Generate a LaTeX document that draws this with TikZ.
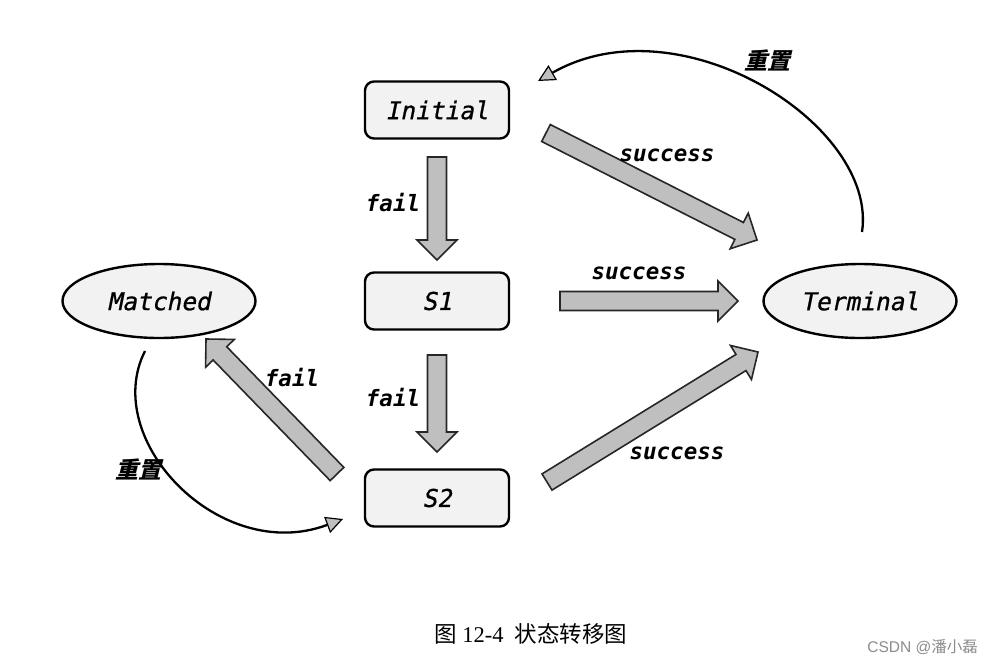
\documentclass[tikz,border=0pt]{standalone}
\usepackage{fontspec}
\setmainfont{Liberation Serif}
\setmonofont{DejaVu Sans Mono}
\newfontfamily\nodefont{DejaVu Sans Mono}[FakeSlant=0.2, FakeBold=0.8]
\newfontfamily\cjk{Noto Sans CJK SC}
\newfontfamily\cjksl{Noto Sans CJK SC}[FakeSlant=0.25]
\newfontfamily\wmfont{Liberation Sans}
\usetikzlibrary{calc,arrows.meta,shapes.geometric}
\newcommand\fatarrow[2]{%
  \path ($(#2)!20pt!(#1)$) coordinate (fh);
  \filldraw[fatstyle] ($(#1)!9.5pt!-90:(fh)$) -- ($(fh)!9.5pt!90:(#1)$) -- ($(fh)!20pt!90:(#1)$) -- (#2) -- ($(fh)!20pt!-90:(#1)$) -- ($(fh)!9.5pt!-90:(#1)$) -- ($(#1)!9.5pt!90:(fh)$) -- cycle;}
\tikzset{
  state/.style={draw, line width=2.4pt, rounded corners=9pt, fill=black!5,
    minimum width=144pt, minimum height=57pt, inner sep=0pt,
    font=\nodefont\fontsize{24.5}{28}\selectfont},
  endstate/.style={ellipse, draw, line width=2.4pt, fill=black!5,
    minimum width=193pt, minimum height=74pt, inner sep=0pt,
    font=\nodefont\fontsize{24.5}{28}\selectfont},
  fatstyle/.style={fill=gray!50, draw=black!85, line width=1.6pt, line join=miter},
  lbl/.style={font=\ttfamily\bfseries\itshape\fontsize{22.5}{26}\selectfont, inner sep=0pt},
  reset/.style={font=\cjksl\bfseries\fontsize{23}{26}\selectfont, inner sep=0pt},
  curvearrow/.style={line width=2.3pt, -{Triangle[length=17pt, width=17pt, fill=gray!50, line width=1.2pt]}},
}
\begin{document}
\begin{tikzpicture}[x=1pt, y=-1pt]
\useasboundingbox[fill=white] (0,0) rectangle (993,662);
% nodes
\node[state] (init) at (437,110) {Initial};
\node[state] (s1) at (437,301) {S1};
\node[state] (s2) at (437,498) {S2};
\node[endstate] (matched) at (159,301) {Matched};
\node[endstate] (term) at (860,301) {Terminal};
% arrow endpoints
\coordinate (a1s) at (437,157); \coordinate (a1e) at (437,260);
\coordinate (a2s) at (437,355); \coordinate (a2e) at (437,452);
\coordinate (a3s) at (560,301); \coordinate (a3e) at (738,301);
\coordinate (a4s) at (546,133); \coordinate (a4e) at (757,240);
\coordinate (a5s) at (547,482); \coordinate (a5e) at (758,352);
\coordinate (a6s) at (337,474); \coordinate (a6e) at (206,339);
\fatarrow{a1s}{a1e}
\fatarrow{a2s}{a2e}
\fatarrow{a3s}{a3e}
\fatarrow{a4s}{a4e}
\fatarrow{a5s}{a5e}
\fatarrow{a6s}{a6e}
% labels
\node[lbl] (l1) at (667,155) {success};
\node[lbl] (l2) at (393,203) {fail};
\node[lbl] (l3) at (639,273) {success};
\node[lbl] (l4) at (393,398) {fail};
\node[lbl] (l5) at (292,378) {fail};
\node[lbl] (l6) at (677,453) {success};
% reset curves
\coordinate (r1s) at (862,232); \coordinate (r1e) at (538,81);
\draw[curvearrow] (r1s) .. controls (878,125) and (680,0) .. (r1e);
\coordinate (r2s) at (145,351); \coordinate (r2e) at (343,519);
\draw[curvearrow] (r2s) .. controls (100,440) and (220,565) .. (r2e);
\node[reset] (t1) at (767,60) {重置};
\node[reset] (t2) at (138,469) {重置};
% caption
\node[inner sep=0pt, anchor=west] (cap) at (434,634) {\fontsize{22.5}{26}\selectfont{\cjk 图} 12-4\ \ {\cjk 状态转移图}};
\node[inner sep=0pt, anchor=east, text=black!45] (wm) at (978,647) {\fontsize{15.5}{18}\selectfont\wmfont CSDN @{\cjk 潘小磊}};
\end{tikzpicture}
\end{document}
